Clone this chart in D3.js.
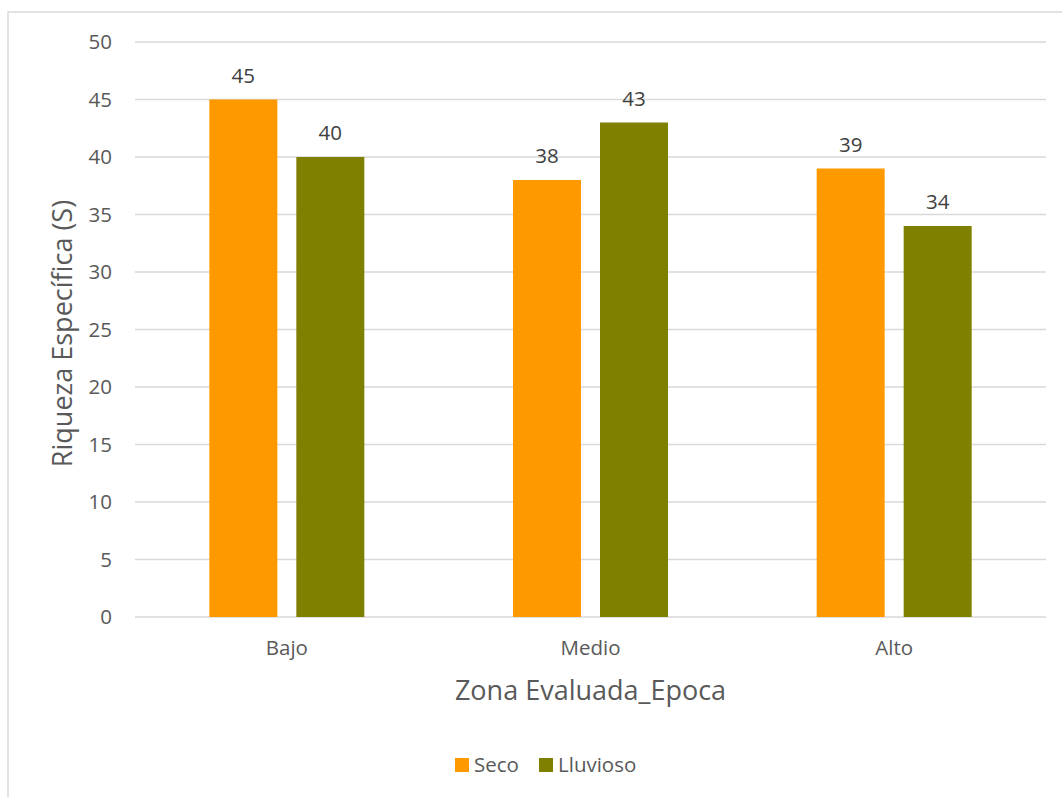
<!DOCTYPE html>
<html>
<head>
<meta charset="utf-8">
<script src="https://cdn.jsdelivr.net/npm/d3@7"></script>
<style>
  html, body { margin: 0; padding: 0; background: #fff; }
  svg { display: block; font-family: "Open Sans", "Noto Sans", sans-serif; }
</style>
</head>
<body>
<svg id="chart" width="1062" height="797"></svg>
<script>
// Species richness by evaluated zone and season
const zones = ["Bajo", "Medio", "Alto"];
const seasons = ["Seco", "Lluvioso"];
const seco = [45, 38, 39];
const lluvioso = [40, 43, 34];
const yTicks = [0, 5, 10, 15, 20, 25, 30, 35, 40, 45, 50];
const colors = ["#FF9900", "#808000"];

const svg = d3.select("#chart");
const W = 1062, H = 797;
const plot = { left: 135, right: 1046, top: 42, bottom: 617 };
const textColor = "#595959";
const small = 20.5, big = 27;

// Outer frame
svg.append("rect")
  .attr("x", 8).attr("y", 12)
  .attr("width", W + 10).attr("height", H)
  .attr("fill", "#fff")
  .attr("stroke", "#d9d9d9").attr("stroke-width", 1.5);

const x0 = d3.scaleBand().domain(zones).range([plot.left, plot.right]).paddingInner(0).paddingOuter(0);
const y = d3.scaleLinear().domain([0, 50]).range([plot.bottom, plot.top]);

// Gridlines
svg.append("g").selectAll("line").data(yTicks).join("line")
  .attr("x1", plot.left).attr("x2", plot.right)
  .attr("y1", d => y(d)).attr("y2", d => y(d))
  .attr("stroke", "#d9d9d9").attr("stroke-width", 1.5);

// Y tick labels
svg.append("g").selectAll("text").data(yTicks).join("text")
  .attr("x", 112).attr("y", d => y(d))
  .attr("dy", "0.35em")
  .attr("text-anchor", "end")
  .attr("font-size", small).attr("fill", textColor)
  .text(d => d);

// Bars: two per zone
const barW = 68, gap = 19;
const rows = zones.map((z, i) => ({ zone: z, values: [seco[i], lluvioso[i]] }));
const groups = svg.append("g").selectAll("g").data(rows).join("g");

groups.selectAll("rect").data((d) => d.values.map((v, j) => ({ zone: d.zone, v, j }))).join("rect")
  .attr("x", d => x0(d.zone) + x0.bandwidth() / 2 - (barW + gap / 2) + d.j * (barW + gap))
  .attr("width", barW)
  .attr("y", d => y(d.v))
  .attr("height", d => y(0) - y(d.v))
  .attr("fill", d => colors[d.j]);

// Value labels
groups.selectAll("text").data((d) => d.values.map((v, j) => ({ zone: d.zone, v, j }))).join("text")
  .attr("x", d => x0(d.zone) + x0.bandwidth() / 2 - (barW + gap / 2) + d.j * (barW + gap) + barW / 2)
  .attr("y", d => y(d.v) - 17)
  .attr("text-anchor", "middle")
  .attr("font-size", small).attr("fill", "#404040")
  .text(d => d.v);

// Category labels
svg.append("g").selectAll("text").data(zones).join("text")
  .attr("x", d => x0(d) + x0.bandwidth() / 2)
  .attr("y", 655)
  .attr("text-anchor", "middle")
  .attr("font-size", small).attr("fill", textColor)
  .text(d => d);

// Axis titles
svg.append("text")
  .attr("x", (plot.left + plot.right) / 2).attr("y", 700)
  .attr("text-anchor", "middle")
  .attr("font-size", big).attr("fill", textColor)
  .text("Zona Evaluada_Epoca");

svg.append("text")
  .attr("transform", `translate(72, ${(plot.top + plot.bottom) / 2 + 4}) rotate(-90)`)
  .attr("text-anchor", "middle")
  .attr("font-size", big).attr("fill", textColor)
  .text("Riqueza Específica (S)");

// Legend
const legendItems = [{ name: seasons[0], x: 455 }, { name: seasons[1], x: 539 }];
const lg = svg.append("g").selectAll("g").data(legendItems).join("g")
  .attr("transform", d => `translate(${d.x}, 758)`);
lg.append("rect").attr("width", 14).attr("height", 14).attr("fill", (d, i) => colors[i]);
lg.append("text").attr("x", 19).attr("y", 7).attr("dy", "0.35em")
  .attr("font-size", small).attr("fill", textColor)
  .text(d => d.name);
</script>
</body>
</html>
